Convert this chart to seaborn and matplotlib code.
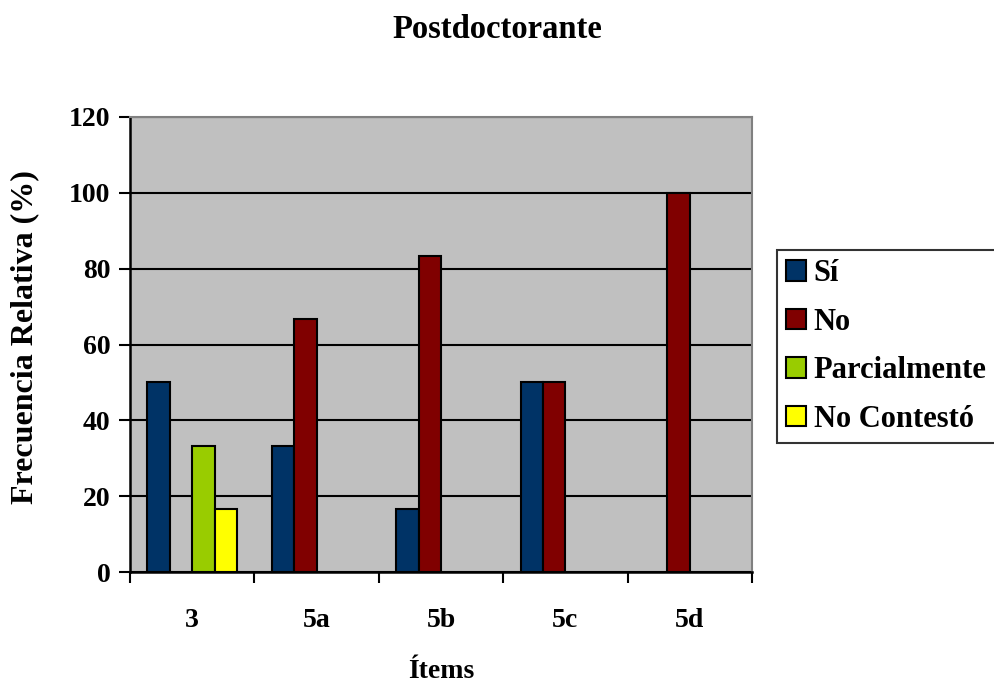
import matplotlib
matplotlib.use("Agg")
import matplotlib.pyplot as plt
import seaborn as sns
import pandas as pd
import numpy as np

categories = ["3", "5a", "5b", "5c", "5d"]
series = ["Sí", "No", "Parcialmente", "No Contestó"]
si = [50, 33.3, 16.7, 50, np.nan]
no = [np.nan, 66.7, 83.3, 50, 100]
parcial = [33.3, np.nan, np.nan, np.nan, np.nan]
no_contesto = [16.7, np.nan, np.nan, np.nan, np.nan]
colors = ["#003366", "#800000", "#99CC00", "#FFFF00"]
yticks = [0, 20, 40, 60, 80, 100, 120]

rows = []
for s, vals in zip(series, [si, no, parcial, no_contesto]):
    for c, v in zip(categories, vals):
        rows.append({"Ítems": c, "Serie": s, "Valor": v})
df = pd.DataFrame(rows)

sns.set_theme(style="white")
plt.rcParams["font.family"] = ["Liberation Serif", "DejaVu Serif"]
plt.rcParams["font.weight"] = "bold"
plt.rcParams["text.color"] = "black"
plt.rcParams["axes.labelcolor"] = "black"
plt.rcParams["xtick.color"] = "black"
plt.rcParams["ytick.color"] = "black"

fig = plt.figure(figsize=(9.95, 6.88), dpi=100)
ax = fig.add_axes([130/995, (688-572)/688, (752-130)/995, (572-117)/688])
ax.set_facecolor("#C0C0C0")

sns.barplot(data=df, x="Ítems", y="Valor", hue="Serie", hue_order=series,
            order=categories, palette=colors, width=0.72, dodge=True,
            edgecolor="black", linewidth=1.5, errorbar=None, ax=ax,
            saturation=1, legend=True)

ax.set_ylim(0, 120)
ax.set_xlim(-0.5, len(categories) - 0.5)
ax.set_yticks(yticks)
ax.set_yticklabels([str(t) for t in yticks], fontsize=20, fontweight="bold", color="black")
ax.yaxis.grid(True, color="black", linewidth=1.5)
ax.set_axisbelow(True)
ax.tick_params(axis="y", which="major", length=8, width=1.5, color="black", direction="out", left=True, pad=6)
ax.set_xticks(range(len(categories)))
ax.set_xticklabels(categories, fontsize=20, fontweight="bold", color="black")
ax.tick_params(axis="x", which="major", length=0, pad=26)
ax.set_xticks(np.arange(-0.5, len(categories), 1.0), minor=True)
ax.tick_params(axis="x", which="minor", length=8, width=1.5, color="black", direction="out", bottom=True)

for side in ["left", "bottom"]:
    ax.spines[side].set_color("black")
    ax.spines[side].set_linewidth(1.8)
for side in ["top", "right"]:
    ax.spines[side].set_color("#808080")
    ax.spines[side].set_linewidth(1.5)

ax.set_xlabel("")
ax.set_ylabel("")
fig.text(441/995, 1 - 671/688, "Ítems", ha="center", va="center", fontsize=20, fontweight="bold", color="black")
fig.text(25/995, 1 - 337/688, "Frecuencia Relativa (%)", rotation=90, ha="center", va="center",
         fontsize=23, fontweight="bold", color="black")
fig.text(497/995, 1 - 29/688, "Postdoctorante", ha="center", va="center", fontsize=23.5,
         fontweight="bold", color="black")

ax.get_legend().remove()
handles = [plt.Rectangle((0, 0), 1, 1, facecolor=c, edgecolor="black", linewidth=1.5) for c in colors]
leg = fig.legend(handles, series, loc="upper left", bbox_to_anchor=(777/995, 1 - 250/688),
                 frameon=True, fancybox=False, edgecolor="black", fontsize=22,
                 handlelength=0.65, handleheight=0.65, handletextpad=0.25,
                 labelspacing=0.64, borderpad=0.3, borderaxespad=0)
leg.get_frame().set_linewidth(1.5)
for t in leg.get_texts():
    t.set_fontweight("bold")
    t.set_color("black")

fig.savefig("out.png", dpi=100)
